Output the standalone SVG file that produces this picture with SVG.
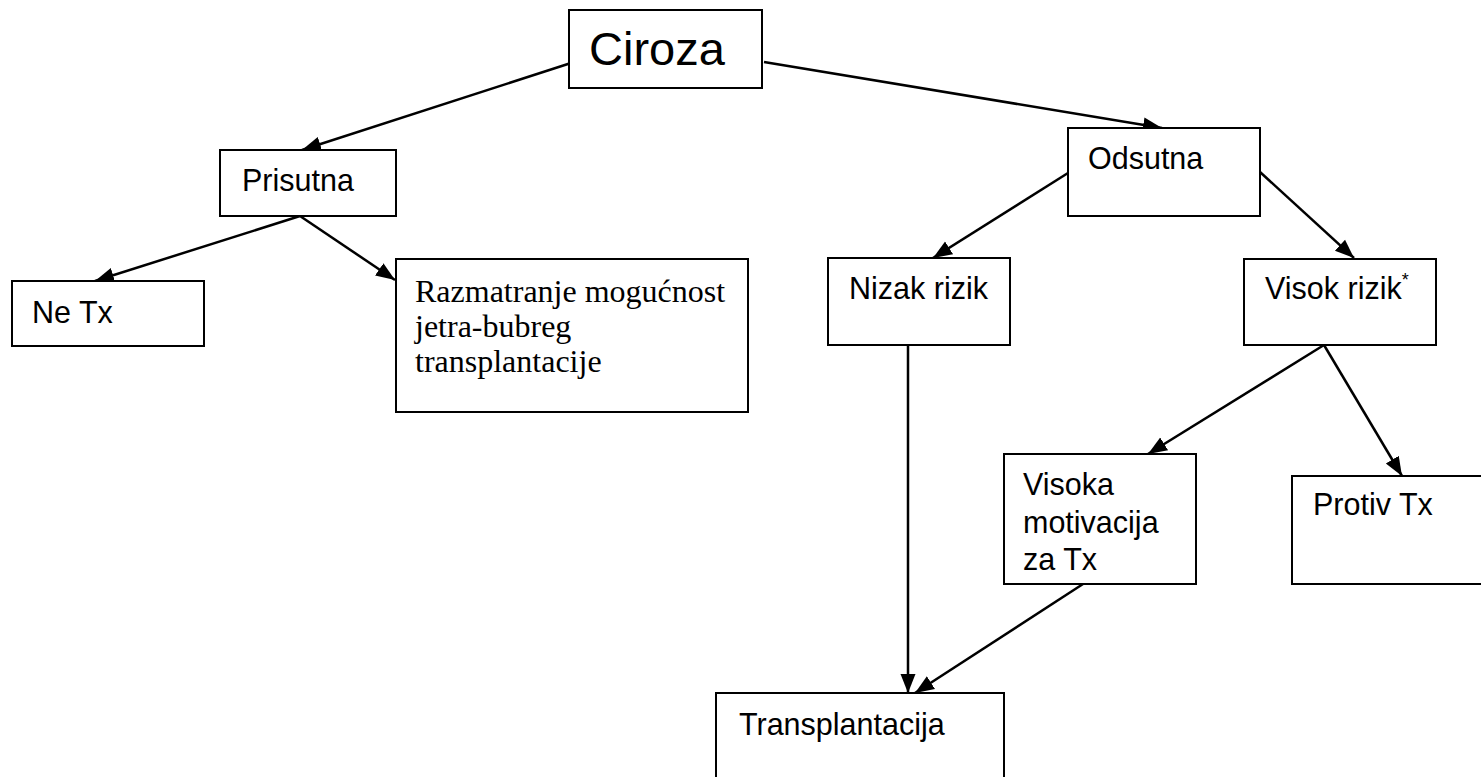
<svg xmlns="http://www.w3.org/2000/svg" width="1481" height="777" viewBox="0 0 1481 777">
<style>
.box{fill:#fff;stroke:#000;stroke-width:2}
.t{font-family:"Liberation Sans",Arial,sans-serif;font-size:30.5px;fill:#000}
.ts{font-family:"Liberation Serif","Times New Roman",serif;font-size:32px;fill:#000}
.c{stroke:#000;stroke-width:2.5;fill:none;marker-end:url(#ah)}
</style>
<defs>
<marker id="ah" markerUnits="userSpaceOnUse" markerWidth="20" markerHeight="18" refX="19" refY="9" orient="auto">
<path d="M0,1.5 L19,9 L0,16.5 Z" fill="#000"/>
</marker>
</defs>
<rect width="1481" height="777" fill="#fff"/>
<g id="connectors">
<line class="c" x1="571" y1="63" x2="302" y2="150"/>
<line class="c" x1="764" y1="62" x2="1162" y2="128"/>
<line class="c" x1="300" y1="216" x2="95" y2="281"/>
<line class="c" x1="300" y1="216" x2="395" y2="280"/>
<line class="c" x1="1068" y1="173" x2="933" y2="258"/>
<line class="c" x1="1260" y1="172" x2="1354" y2="258"/>
<line class="c" x1="908" y1="345" x2="908" y2="693"/>
<line class="c" x1="1324" y1="345" x2="1148" y2="454"/>
<line class="c" x1="1324" y1="345" x2="1402" y2="476"/>
<line class="c" x1="1083" y1="584" x2="915" y2="693"/>
</g>
<g id="ciroza">
<rect class="box" x="569" y="10" width="193" height="78"/>
<text x="589" y="65" style="font-family:'Liberation Sans',Arial,sans-serif;font-size:47px">Ciroza</text>
</g>
<g id="prisutna">
<rect class="box" x="220" y="150" width="176" height="66"/>
<text class="t" x="242" y="191">Prisutna</text>
</g>
<g id="netx">
<rect class="box" x="12" y="281" width="192" height="65"/>
<text class="t" x="32" y="323">Ne Tx</text>
</g>
<g id="razmatranje">
<rect class="box" x="396" y="259" width="352" height="153"/>
<text class="ts" x="415" y="302">Razmatranje mogućnost</text>
<text class="ts" x="415" y="337">jetra-bubreg</text>
<text class="ts" x="415" y="372">transplantacije</text>
</g>
<g id="odsutna">
<rect class="box" x="1068" y="128" width="192" height="88"/>
<text class="t" x="1088" y="169">Odsutna</text>
</g>
<g id="nizak">
<rect class="box" x="828" y="258" width="182" height="87"/>
<text class="t" x="849" y="299">Nizak rizik</text>
</g>
<g id="visok">
<rect class="box" x="1244" y="259" width="192" height="86"/>
<text class="t" x="1265" y="299">Visok rizik<tspan font-size="18" dy="-13">*</tspan></text>
</g>
<g id="visoka">
<rect class="box" x="1004" y="454" width="192" height="130"/>
<text class="t" x="1023" y="495">Visoka</text>
<text class="t" x="1023" y="533">motivacija</text>
<text class="t" x="1023" y="570">za Tx</text>
</g>
<g id="protiv">
<rect class="box" x="1292" y="476" width="200" height="108"/>
<text class="t" x="1313" y="515">Protiv Tx</text>
</g>
<g id="transplantacija">
<rect class="box" x="716" y="693" width="288" height="100"/>
<text class="t" x="739" y="735">Transplantacija</text>
</g>
</svg>
